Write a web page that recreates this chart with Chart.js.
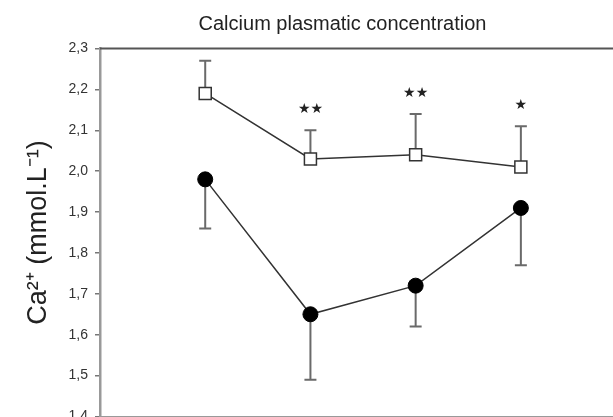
<!DOCTYPE html>
<html><head><meta charset="utf-8">
<script src="https://cdn.jsdelivr.net/npm/chart.js@4"></script>
<style>
html,body{margin:0;padding:0;overflow:hidden;background:#fff;width:613px;height:417px}
#wrap{position:absolute;left:0;top:0;width:685px;height:437px}
</style></head><body>
<div id="wrap"><canvas id="c"></canvas></div>
<script>
const timePoints = [1, 2, 3, 4];
const squareMean = [2.19, 2.03, 2.04, 2.01];
const squareUpper = [2.27, 2.10, 2.14, 2.11];
const circleMean = [1.98, 1.65, 1.72, 1.91];
const circleLower = [1.86, 1.49, 1.62, 1.77];
const starLabels = ['', '★★', '★★', '★'];
const starValues = [null, 2.15, 2.19, 2.16];
const yMin = 1.4, yMax = 2.3, yStep = 0.1;
const xMin = 0, xMax = 5.56;

const toXY = (ys) => timePoints.map((x, i) => ({x: x, y: ys[i]}));

const errorBars = {
  id: 'errorBars',
  beforeDatasetsDraw(chart) {
    const {ctx, scales: {x, y}} = chart;
    ctx.save();
    ctx.strokeStyle = '#6a6a6a';
    ctx.lineWidth = 2;
    const cap = 6;
    const draw = (means, ends) => {
      timePoints.forEach((t, i) => {
        const px = x.getPixelForValue(t);
        const y0 = y.getPixelForValue(means[i]);
        const y1 = y.getPixelForValue(ends[i]);
        ctx.beginPath();
        ctx.moveTo(px, y0); ctx.lineTo(px, y1);
        ctx.moveTo(px - cap, y1); ctx.lineTo(px + cap, y1);
        ctx.stroke();
      });
    };
    draw(squareMean, squareUpper);
    draw(circleMean, circleLower);
    ctx.restore();
  }
};

const topFrame = {
  id: 'topFrame',
  afterDraw(chart) {
    const {ctx, chartArea} = chart;
    ctx.save();
    ctx.strokeStyle = '#555';
    ctx.lineWidth = 2;
    ctx.beginPath();
    ctx.moveTo(chartArea.left, chartArea.top);
    ctx.lineTo(chartArea.right, chartArea.top);
    ctx.stroke();
    ctx.restore();
  }
};

const stars = {
  id: 'stars',
  afterDatasetsDraw(chart) {
    const {ctx, scales: {x, y}} = chart;
    ctx.save();
    ctx.fillStyle = '#222';
    ctx.font = '14px "DejaVu Sans"';
    ctx.textAlign = 'center';
    ctx.textBaseline = 'middle';
    timePoints.forEach((t, i) => {
      if (!starLabels[i]) return;
      ctx.fillText(starLabels[i], x.getPixelForValue(t), y.getPixelForValue(starValues[i]));
    });
    ctx.restore();
  }
};

new Chart(document.getElementById('c'), {
  type: 'scatter',
  data: {
    datasets: [
      {
        label: 'open',
        data: toXY(squareMean),
        showLine: true,
        borderColor: '#333',
        borderWidth: 1.5,
        pointStyle: 'rect',
        pointRadius: 8.5,
        pointBackgroundColor: '#fff',
        pointBorderColor: '#333',
        pointBorderWidth: 1.5
      },
      {
        label: 'filled',
        data: toXY(circleMean),
        showLine: true,
        borderColor: '#333',
        borderWidth: 1.5,
        pointStyle: 'circle',
        pointRadius: 7.5,
        pointBackgroundColor: '#000',
        pointBorderColor: '#000',
        pointBorderWidth: 1
      }
    ]
  },
  options: {
    responsive: true,
    maintainAspectRatio: false,
    devicePixelRatio: 1,
    animation: false,
    layout: {padding: 0, autoPadding: false},
    plugins: {
      legend: {display: false},
      tooltip: {enabled: false},
      title: {
        display: true,
        text: 'Calcium plasmatic concentration',
        color: '#222',
        font: {family: 'Arial, "Liberation Sans"', size: 20, weight: 'normal'},
        padding: {top: 12, bottom: 12.5}
      }
    },
    scales: {
      x: {
        type: 'linear',
        min: xMin, max: xMax,
        ticks: {display: false, stepSize: 1},
        grid: {display: true, drawOnChartArea: false, tickLength: 5, color: '#888'},
        border: {display: true, color: '#999', width: 2},
        afterFit(s) { s.height = 20.5; }
      },
      y: {
        min: yMin, max: yMax,
        ticks: {
          stepSize: yStep,
          color: '#333',
          padding: 7,
          font: {family: 'Arial, "Liberation Sans"', size: 14},
          callback: (v) => v.toFixed(1).replace('.', ',')
        },
        grid: {display: true, drawOnChartArea: false, tickLength: 5, color: '#777', lineWidth: 1.5},
        border: {display: true, color: '#999', width: 2.5},
        title: {
          display: true,
          text: 'Ca²⁺ (mmol.L⁻¹)',
          color: '#222',
          font: {family: 'Arial, "Liberation Sans"', size: 27},
          padding: {top: 22, bottom: 0}
        },
        afterFit(s) { s.width = 100; }
      }
    }
  },
  plugins: [errorBars, topFrame, stars]
});
</script>
</body></html>
